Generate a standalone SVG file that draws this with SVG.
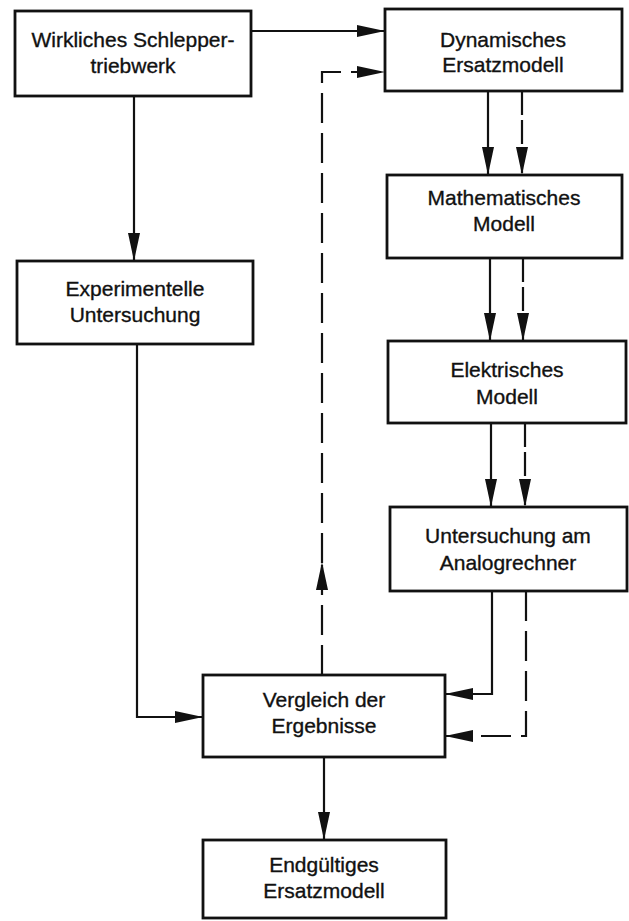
<svg xmlns="http://www.w3.org/2000/svg" width="629" height="921" viewBox="0 0 629 921">
<style>
.box{fill:#fff;stroke:#111;stroke-width:2.8}
.t{font-family:"Liberation Sans",Arial,sans-serif;font-size:21px;fill:#111;stroke:#111;stroke-width:0.35;text-anchor:middle}
.c{fill:none;stroke:#111;stroke-width:2.2}
.d{stroke-dasharray:30 10}
.ds{stroke-dasharray:24 5}
</style>
<defs>
<marker id="ah" markerUnits="userSpaceOnUse" markerWidth="28" markerHeight="13" refX="27" refY="6.5" orient="auto">
<path d="M0,0.5 L28,6.5 L0,12.5 z" fill="#111"/>
</marker>
</defs>
<rect width="629" height="921" fill="#fff"/>
<g id="connectors">
<path class="c" d="M251,31 H384" marker-end="url(#ah)"/>
<path class="c" d="M134,96 V260" marker-end="url(#ah)"/>
<path class="c" d="M137,344 V717 H202" marker-end="url(#ah)"/>
<path class="c" d="M488,91 V174" marker-end="url(#ah)"/>
<path class="c ds" d="M522,91 V174" marker-end="url(#ah)"/>
<path class="c" d="M490,258 V340" marker-end="url(#ah)"/>
<path class="c ds" d="M523,258 V340" marker-end="url(#ah)"/>
<path class="c" d="M491,423 V506" marker-end="url(#ah)"/>
<path class="c ds" d="M525,423 V506" marker-end="url(#ah)"/>
<path class="c" d="M492,591 V694 H446" marker-end="url(#ah)"/>
<path class="c d" d="M526,591 V736 H446" marker-end="url(#ah)"/>
<path class="c d" d="M322,675 V563" marker-end="url(#ah)"/>
<path class="c d" d="M322,563 V72 H384" marker-end="url(#ah)"/>
<path class="c" d="M324,757 V839" marker-end="url(#ah)"/>
</g>
<g id="n1"><rect class="box" x="15" y="11" width="236" height="85"/>
<text class="t" x="133" y="47">Wirkliches Schlepper-</text><text class="t" x="133" y="73">triebwerk</text></g>
<g id="n2"><rect class="box" x="385" y="9" width="237" height="82"/>
<text class="t" x="503" y="47">Dynamisches</text><text class="t" x="503" y="72">Ersatzmodell</text></g>
<g id="n3"><rect class="box" x="387" y="175" width="235" height="83"/>
<text class="t" x="504" y="205">Mathematisches</text><text class="t" x="504" y="231">Modell</text></g>
<g id="n4"><rect class="box" x="388" y="341" width="238" height="82"/>
<text class="t" x="507" y="377">Elektrisches</text><text class="t" x="507" y="404">Modell</text></g>
<g id="n5"><rect class="box" x="390" y="507" width="237" height="84"/>
<text class="t" x="508" y="543">Untersuchung am</text><text class="t" x="508" y="570">Analogrechner</text></g>
<g id="n6"><rect class="box" x="17" y="261" width="236" height="83"/>
<text class="t" x="135" y="296">Experimentelle</text><text class="t" x="135" y="322">Untersuchung</text></g>
<g id="n7"><rect class="box" x="203" y="675" width="242" height="82"/>
<text class="t" x="324" y="707">Vergleich der</text><text class="t" x="324" y="733">Ergebnisse</text></g>
<g id="n8"><rect class="box" x="203" y="840" width="243" height="78"/>
<text class="t" x="324" y="872">Endgültiges</text><text class="t" x="324" y="898">Ersatzmodell</text></g>
</svg>
